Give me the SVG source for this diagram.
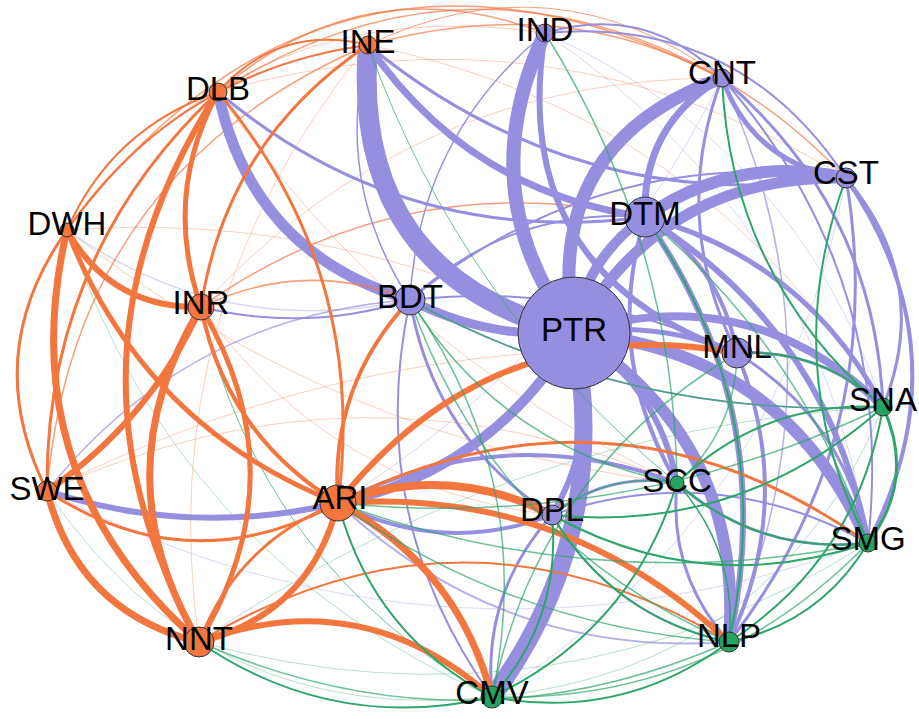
<svg xmlns="http://www.w3.org/2000/svg" width="919" height="719" viewBox="0 0 919 719">
<style>
.p{stroke:#968fe0}
.o{stroke:#f4763f}
.g{stroke:#2ea569}
.f{stroke-opacity:.35}
.m{stroke-opacity:.7}
.node circle{stroke:#333;stroke-width:1}
.np{fill:#968fe0}
.no{fill:#f4763f}
.ng{fill:#25a35f}
text{font-family:"Liberation Sans",Arial,sans-serif;font-size:33px;fill:#000;text-anchor:middle}
</style>
<defs>
<path id="R1" d="M0,0 Q0.5,0.14 1,0" fill="none" vector-effect="non-scaling-stroke"/>
<path id="R2" d="M0,0 Q0.5,0.22 1,0" fill="none" vector-effect="non-scaling-stroke"/>
<path id="R3" d="M0,0 Q0.5,0.3 1,0" fill="none" vector-effect="non-scaling-stroke"/>
<path id="R4" d="M0,0 Q0.5,0.42 1,0" fill="none" vector-effect="non-scaling-stroke"/>
<path id="L1" d="M0,0 Q0.5,-0.14 1,0" fill="none" vector-effect="non-scaling-stroke"/>
<path id="L2" d="M0,0 Q0.5,-0.22 1,0" fill="none" vector-effect="non-scaling-stroke"/>
<path id="L3" d="M0,0 Q0.5,-0.3 1,0" fill="none" vector-effect="non-scaling-stroke"/>
<path id="L4" d="M0,0 Q0.5,-0.42 1,0" fill="none" vector-effect="non-scaling-stroke"/>
</defs>
<rect width="919" height="719" fill="#fff"/>
<g id="connectors">
<!-- faint -->
<use href="#L3" class="o f" stroke-width="1" transform="matrix(478,-197,197,478,67,230)"/>
<use href="#L2" class="o f" stroke-width="1" transform="matrix(171,-399,399,171,47,491)"/>
<use href="#L2" class="o f" stroke-width="1" transform="matrix(521,-229,229,521,201,307)"/>
<use href="#L2" class="o f" stroke-width="1" transform="matrix(628,86,-86,628,218,92)"/>
<use href="#L2" class="o f" stroke-width="1" transform="matrix(515,362,-362,515,368,45)"/>
<use href="#L2" class="p f" stroke-width="1" transform="matrix(338,374,-374,338,545,33)"/>
<use href="#L2" class="p f" stroke-width="1" transform="matrix(323,510,-510,323,545,33)"/>
<use href="#L2" class="o f" stroke-width="1" transform="matrix(169,-597,597,169,199,642)"/>
<use href="#R1" class="o f" stroke-width="1" transform="matrix(610,253,-253,610,67,230)"/>
<use href="#L1" class="o f" stroke-width="1" transform="matrix(690,-138,138,690,47,491)"/>
<use href="#L1" class="g f" stroke-width="1" transform="matrix(684,-235,235,684,199,642)"/>
<use href="#R1" class="o f" stroke-width="1" transform="matrix(459,391,-391,459,218,92)"/>
<use href="#L1" class="o f" stroke-width="1" transform="matrix(507,103,-103,507,67,230)"/>
<use href="#R2" class="p f" stroke-width="1" transform="matrix(821,52,-52,821,47,491)"/>
<use href="#L2" class="p f" stroke-width="1" transform="matrix(-354,519,-519,-354,846,178)"/>
<use href="#L1" class="p f" stroke-width="1" transform="matrix(-384,425,-425,-384,722,78)"/>
<use href="#R2" class="p f" stroke-width="1.5" transform="matrix(343,70,-70,343,67,230)"/>
<use href="#L3" class="o m" stroke-width="1.5" transform="matrix(321,-446,446,321,47,491)"/>
<use href="#L4" class="o m" stroke-width="1.5" transform="matrix(655,-152,152,655,67,230)"/>
<use href="#L3" class="o m" stroke-width="1.5" transform="matrix(504,-14,14,504,218,92)"/>
<use href="#L3" class="o m" stroke-width="1.5" transform="matrix(478,133,-133,478,368,45)"/>
<use href="#L3" class="o m" stroke-width="1.5" transform="matrix(327,-59,59,327,218,92)"/>
<use href="#L3" class="o m" stroke-width="1" transform="matrix(354,33,-33,354,368,45)"/>
<use href="#L2" class="o m" stroke-width="1.5" transform="matrix(444,-90,90,444,201,307)"/>
<use href="#R2" class="o f" stroke-width="1" transform="matrix(351,208,-208,351,201,307)"/>
<use href="#L2" class="o f" stroke-width="1" transform="matrix(630,-8,8,630,47,491)"/>
<use href="#R2" class="g f" stroke-width="1" transform="matrix(425,467,-467,425,67,230)"/>
<use href="#R2" class="g m" stroke-width="1" transform="matrix(291,390,-390,291,201,307)"/>
<use href="#R3" class="g f" stroke-width="1" transform="matrix(445,206,-206,445,47,491)"/>
<use href="#R2" class="g f" stroke-width="1" transform="matrix(669,-99,99,669,199,642)"/>
<use href="#R3" class="g f" stroke-width="1" transform="matrix(391,-290,290,391,492,697)"/>
<use href="#L2" class="g m" stroke-width="1.5" transform="matrix(-376,154,-154,-376,868,543)"/>
<use href="#L2" class="p m" stroke-width="1.5" transform="matrix(7,564,-564,7,722,78)"/>
<use href="#L2" class="p m" stroke-width="1.5" transform="matrix(363,-191,191,363,47,491)"/>
<!-- purple -->
<use href="#R4" class="p" stroke-width="20" transform="matrix(206,288,-288,206,368,45)"/>
<use href="#R3" class="p" stroke-width="14" transform="matrix(29,300,-300,29,545,33)"/>
<use href="#R4" class="p" stroke-width="13" transform="matrix(-148,255,-255,-148,722,78)"/>
<use href="#R3" class="p" stroke-width="11" transform="matrix(-272,155,-155,-272,846,178)"/>
<use href="#R2" class="p" stroke-width="10" transform="matrix(-71,116,-116,-71,645,217)"/>
<use href="#L2" class="p" stroke-width="12" transform="matrix(201,-39,39,201,645,217)"/>
<use href="#R3" class="p" stroke-width="12" transform="matrix(-294,-210,210,-294,868,543)"/>
<use href="#R3" class="p" stroke-width="8" transform="matrix(-309,-74,74,-309,883,407)"/>
<use href="#R3" class="p" stroke-width="12" transform="matrix(-155,-309,309,-155,729,642)"/>
<use href="#R2" class="p" stroke-width="18" transform="matrix(82,-364,364,82,492,697)"/>
<use href="#R2" class="p" stroke-width="10" transform="matrix(236,-170,170,236,338,503)"/>
<use href="#R2" class="p" stroke-width="6" transform="matrix(22,-182,182,22,552,515)"/>
<use href="#R2" class="p" stroke-width="6" transform="matrix(-103,-150,150,-103,677,483)"/>
<use href="#R1" class="p" stroke-width="9" transform="matrix(164,33,-33,164,410,300)"/>
<use href="#R3" class="p" stroke-width="11" transform="matrix(192,208,-208,192,218,92)"/>
<use href="#R1" class="p" stroke-width="6" transform="matrix(291,12,-12,291,47,491)"/>
<use href="#R2" class="p" stroke-width="7" transform="matrix(277,172,-172,277,368,45)"/>
<use href="#R4" class="p" stroke-width="6" transform="matrix(192,320,-320,192,545,33)"/>
<use href="#R3" class="p" stroke-width="7" transform="matrix(-77,139,-139,-77,722,78)"/>
<use href="#R3" class="p" stroke-width="5" transform="matrix(124,100,-100,124,722,78)"/>
<use href="#L3" class="p" stroke-width="4" transform="matrix(22,365,-365,22,846,178)"/>
<use href="#L3" class="p" stroke-width="3" transform="matrix(37,229,-229,37,846,178)"/>
<use href="#R2" class="p" stroke-width="6" transform="matrix(-84,-425,425,-84,729,642)"/>
<use href="#L2" class="p" stroke-width="6" transform="matrix(223,326,-326,223,645,217)"/>
<use href="#L2" class="p" stroke-width="5" transform="matrix(238,190,-190,238,645,217)"/>
<use href="#L2" class="p" stroke-width="4" transform="matrix(92,136,-136,92,645,217)"/>
<use href="#R2" class="p" stroke-width="4" transform="matrix(32,266,-266,32,645,217)"/>
<use href="#L2" class="p" stroke-width="4" transform="matrix(-8,289,-289,-8,737,353)"/>
<use href="#R2" class="p" stroke-width="4" transform="matrix(214,12,-12,214,338,503)"/>
<use href="#L2" class="p" stroke-width="4" transform="matrix(339,-20,20,339,338,503)"/>
<use href="#R2" class="p" stroke-width="3" transform="matrix(142,215,-215,142,410,300)"/>
<use href="#R2" class="p" stroke-width="2" transform="matrix(82,397,-397,82,410,300)"/>
<use href="#R2" class="p" stroke-width="3" transform="matrix(-60,182,-182,-60,552,515)"/>
<use href="#R2" class="p" stroke-width="3" transform="matrix(427,125,-125,427,218,92)"/>
<use href="#R1" class="p" stroke-width="2" transform="matrix(209,-7,7,209,201,307)"/>
<use href="#L1" class="p" stroke-width="5" transform="matrix(163,20,-20,163,574,333)"/>
<use href="#L2" class="p" stroke-width="2" transform="matrix(146,465,-465,146,722,78)"/>
<use href="#R2" class="p" stroke-width="3" transform="matrix(15,275,-275,15,722,78)"/>
<use href="#L3" class="p" stroke-width="2" transform="matrix(177,45,-45,177,545,33)"/>
<use href="#L3" class="p" stroke-width="2" transform="matrix(301,145,-145,301,545,33)"/>
<use href="#R2" class="p" stroke-width="1.5" transform="matrix(-135,267,-267,-135,545,33)"/>
<use href="#R2" class="p" stroke-width="1.5" transform="matrix(42,255,-255,42,368,45)"/>
<use href="#L2" class="p" stroke-width="3" transform="matrix(-117,464,-464,-117,846,178)"/>
<use href="#L2" class="p" stroke-width="3" transform="matrix(131,190,-190,131,737,353)"/>
<use href="#L2" class="p" stroke-width="3" transform="matrix(146,54,-54,146,737,353)"/>
<use href="#L2" class="p" stroke-width="3" transform="matrix(125,-32,32,125,552,515)"/>
<use href="#R2" class="p" stroke-width="2" transform="matrix(177,127,-127,177,552,515)"/>
<use href="#R2" class="p" stroke-width="3" transform="matrix(52,159,-159,52,677,483)"/>
<use href="#R2" class="p" stroke-width="3" transform="matrix(191,60,-60,191,677,483)"/>
<use href="#L2" class="p" stroke-width="3" transform="matrix(161,329,-329,161,722,78)"/>
<use href="#L2" class="p" stroke-width="2" transform="matrix(235,-83,83,235,410,300)"/>
<use href="#L1" class="p" stroke-width="2" transform="matrix(327,53,-53,327,410,300)"/>
<use href="#R1" class="p" stroke-width="1.5" transform="matrix(473,107,-107,473,410,300)"/>
<use href="#L2" class="p" stroke-width="2" transform="matrix(436,-122,122,436,410,300)"/>
<use href="#R2" class="p" stroke-width="3" transform="matrix(478,133,-133,478,368,45)"/>
<use href="#L2" class="p" stroke-width="2" transform="matrix(316,28,-28,316,552,515)"/>
<use href="#R2" class="p m" stroke-width="2" transform="matrix(391,139,-139,391,338,503)"/>
<!-- orange -->
<use href="#R3" class="o" stroke-width="6" transform="matrix(134,77,-77,134,67,230)"/>
<use href="#R3" class="o" stroke-width="7" transform="matrix(132,412,-412,132,67,230)"/>
<use href="#R3" class="o" stroke-width="3" transform="matrix(-20,261,-261,-20,67,230)"/>
<use href="#R2" class="o" stroke-width="5" transform="matrix(271,273,-273,271,67,230)"/>
<use href="#L2" class="o" stroke-width="2" transform="matrix(151,-138,138,151,67,230)"/>
<use href="#R2" class="o" stroke-width="5" transform="matrix(-17,215,-215,-17,218,92)"/>
<use href="#R3" class="o" stroke-width="6" transform="matrix(-19,550,-550,-19,218,92)"/>
<use href="#R2" class="o" stroke-width="3" transform="matrix(-171,399,-399,-171,218,92)"/>
<use href="#L2" class="o" stroke-width="3" transform="matrix(120,411,-411,120,218,92)"/>
<use href="#R3" class="o" stroke-width="7" transform="matrix(-2,335,-335,-2,201,307)"/>
<use href="#L3" class="o" stroke-width="5" transform="matrix(-2,335,-335,-2,201,307)"/>
<use href="#L1" class="o" stroke-width="6" transform="matrix(-154,184,-184,-154,201,307)"/>
<use href="#R2" class="o" stroke-width="4" transform="matrix(137,196,-196,137,201,307)"/>
<use href="#R3" class="o" stroke-width="7" transform="matrix(152,151,-151,152,47,491)"/>
<use href="#R3" class="o" stroke-width="3" transform="matrix(291,12,-12,291,47,491)"/>
<use href="#L3" class="o" stroke-width="6" transform="matrix(-139,139,-139,-139,338,503)"/>
<use href="#R2" class="o" stroke-width="3" transform="matrix(-139,139,-139,-139,338,503)"/>
<use href="#L3" class="o" stroke-width="6" transform="matrix(293,55,-55,293,199,642)"/>
<use href="#L2" class="o" stroke-width="7" transform="matrix(154,194,-194,154,338,503)"/>
<use href="#L2" class="o" stroke-width="8" transform="matrix(214,12,-12,214,338,503)"/>
<use href="#L2" class="o" stroke-width="6" transform="matrix(391,139,-139,391,338,503)"/>
<use href="#L3" class="o" stroke-width="6" transform="matrix(399,-150,150,399,338,503)"/>
<use href="#L3" class="o" stroke-width="3" transform="matrix(530,40,-40,530,338,503)"/>
<use href="#R2" class="o" stroke-width="4" transform="matrix(-72,203,-203,-72,410,300)"/>
<use href="#R2" class="o" stroke-width="3" transform="matrix(-167,262,-262,-167,368,45)"/>
<use href="#R2" class="o" stroke-width="2" transform="matrix(-301,185,-185,-301,368,45)"/>
<use href="#L3" class="o" stroke-width="2" transform="matrix(150,-47,47,150,218,92)"/>
<use href="#L3" class="o" stroke-width="2" transform="matrix(530,0,0,530,199,642)"/>
<use href="#R2" class="o m" stroke-width="1.5" transform="matrix(-209,7,-7,-209,410,300)"/>
<!-- green -->
<use href="#R2" class="g" stroke-width="2" transform="matrix(161,329,-329,161,722,78)"/>
<use href="#R2" class="g" stroke-width="2" transform="matrix(22,365,-365,22,846,178)"/>
<use href="#L3" class="g" stroke-width="3" transform="matrix(-15,136,-136,-15,883,407)"/>
<use href="#L2" class="g" stroke-width="2" transform="matrix(-154,235,-235,-154,883,407)"/>
<use href="#L2" class="g" stroke-width="2" transform="matrix(-331,108,-108,-331,883,407)"/>
<use href="#L1" class="g m" stroke-width="1.5" transform="matrix(-545,96,-96,-545,883,407)"/>
<use href="#R2" class="g" stroke-width="2" transform="matrix(-146,-54,54,-146,883,407)"/>
<use href="#L1" class="g m" stroke-width="1.5" transform="matrix(-473,-107,107,-473,883,407)"/>
<use href="#R2" class="g" stroke-width="2" transform="matrix(-206,76,-76,-206,883,407)"/>
<use href="#L2" class="g" stroke-width="2" transform="matrix(-139,99,-99,-139,868,543)"/>
<use href="#L2" class="g" stroke-width="2" transform="matrix(-191,-60,60,-191,868,543)"/>
<use href="#L2" class="g" stroke-width="2" transform="matrix(-316,-28,28,-316,868,543)"/>
<use href="#L2" class="g" stroke-width="2" transform="matrix(-237,55,-55,-237,729,642)"/>
<use href="#L2" class="g" stroke-width="2" transform="matrix(-177,-127,127,-177,729,642)"/>
<use href="#R2" class="g" stroke-width="1.5" transform="matrix(-52,-159,159,-52,729,642)"/>
<use href="#R2" class="g" stroke-width="2" transform="matrix(60,-182,182,60,492,697)"/>
<use href="#L2" class="g" stroke-width="2" transform="matrix(-154,-194,194,-154,492,697)"/>
<use href="#L2" class="g" stroke-width="2" transform="matrix(-293,-55,55,-293,492,697)"/>
<use href="#R2" class="g m" stroke-width="1.5" transform="matrix(-82,-397,397,-82,492,697)"/>
<use href="#R2" class="g" stroke-width="2" transform="matrix(185,-214,214,185,492,697)"/>
<use href="#R2" class="g m" stroke-width="1.5" transform="matrix(-125,32,-32,-125,677,483)"/>
<use href="#R2" class="g m" stroke-width="1.5" transform="matrix(60,-130,130,60,677,483)"/>
<use href="#L2" class="g" stroke-width="2" transform="matrix(84,425,-425,84,645,217)"/>
<use href="#R2" class="g m" stroke-width="1.5" transform="matrix(319,342,-342,319,410,300)"/>
<use href="#R2" class="g m" stroke-width="1.5" transform="matrix(530,0,0,530,199,642)"/>
<use href="#R2" class="g m" stroke-width="1.5" transform="matrix(267,183,-183,267,410,300)"/>
<use href="#R2" class="g m" stroke-width="1.5" transform="matrix(-245,344,-344,-245,737,353)"/>
<use href="#L1" class="g m" stroke-width="1.5" transform="matrix(132,450,-450,132,545,33)"/>
<use href="#R1" class="g m" stroke-width="1" transform="matrix(309,438,-438,309,368,45)"/>
<use href="#R1" class="g m" stroke-width="1.5" transform="matrix(530,40,-40,530,338,503)"/>
<use href="#L1" class="g m" stroke-width="1.5" transform="matrix(223,326,-326,223,645,217)"/>
<use href="#R1" class="g m" stroke-width="1.5" transform="matrix(391,139,-139,391,338,503)"/>
</g>
<g id="nodes" class="node">
<g id="n-PTR"><circle class="np" cx="574" cy="333" r="56"/><text x="574" y="341">PTR</text></g>
<g id="n-DTM"><circle class="np" cx="645" cy="217" r="20"/><text x="645" y="225">DTM</text></g>
<g id="n-BDT"><circle class="np" cx="410" cy="300" r="15"/><text x="410" y="308">BDT</text></g>
<g id="n-MNL"><circle class="np" cx="737" cy="353" r="15"/><text x="737" y="358">MNL</text></g>
<g id="n-INE"><circle class="no" cx="368" cy="45" r="9"/><text x="368" y="53">INE</text></g>
<g id="n-IND"><circle class="np" cx="545" cy="33" r="9"/><text x="545" y="41">IND</text></g>
<g id="n-CNT"><circle class="np" cx="722" cy="78" r="9"/><text x="722" y="84">CNT</text></g>
<g id="n-CST"><circle class="np" cx="846" cy="178" r="10"/><text x="846" y="184">CST</text></g>
<g id="n-DLB"><circle class="no" cx="218" cy="92" r="9"/><text x="218" y="100">DLB</text></g>
<g id="n-DWH"><circle class="no" cx="67" cy="230" r="7"/><text x="67" y="235">DWH</text></g>
<g id="n-INR"><circle class="no" cx="201" cy="307" r="13"/><text x="201" y="314">INR</text></g>
<g id="n-SWE"><circle class="no" cx="47" cy="491" r="10"/><text x="47" y="500">SWE</text></g>
<g id="n-ARI"><circle class="no" cx="338" cy="503" r="18"/><text x="340" y="509">ARI</text></g>
<g id="n-NNT"><circle class="no" cx="199" cy="642" r="15"/><text x="199" y="650">NNT</text></g>
<g id="n-CMV"><circle class="ng" cx="492" cy="697" r="11"/><text x="492" y="704">CMV</text></g>
<g id="n-DPL"><circle class="np" cx="552" cy="515" r="10"/><text x="552" y="521">DPL</text></g>
<g id="n-SCC"><circle class="ng" cx="677" cy="483" r="7"/><text x="677" y="492">SCC</text></g>
<g id="n-SNA"><circle class="ng" cx="883" cy="407" r="9"/><text x="883" y="411">SNA</text></g>
<g id="n-SMG"><circle class="ng" cx="868" cy="543" r="9"/><text x="868" y="550">SMG</text></g>
<g id="n-NLP"><circle class="ng" cx="729" cy="642" r="10"/><text x="729" y="647">NLP</text></g>
</g>
</svg>
